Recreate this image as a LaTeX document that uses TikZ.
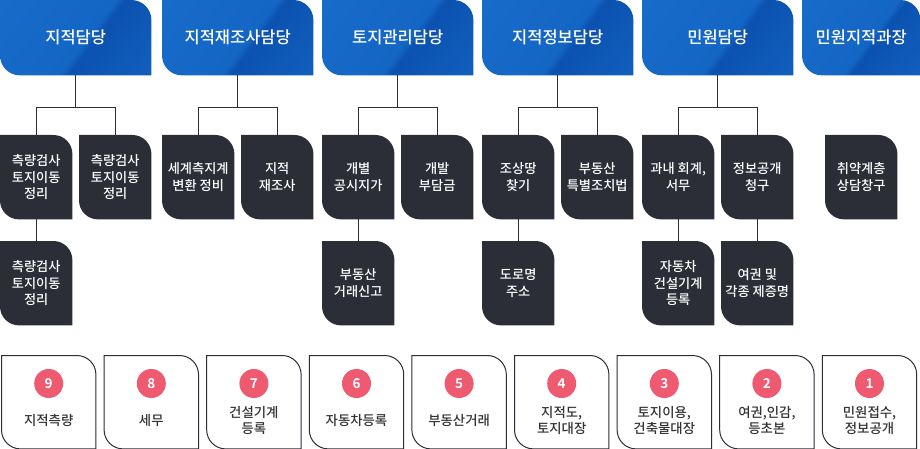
\documentclass[tikz,border=0pt]{standalone}
\usepackage{fontspec}
\setmainfont{Noto Sans CJK KR Medium}[BoldFont={Noto Sans CJK KR Bold}]
\usetikzlibrary{backgrounds,calc}
\definecolor{darkbox}{HTML}{2B2E37}
\definecolor{hbase}{HTML}{1466C4}
\definecolor{hlight}{HTML}{1A6DCA}
\definecolor{hdark}{HTML}{0C52B0}
\definecolor{numred}{HTML}{EE5A6F}
\definecolor{txt}{HTML}{333333}
\pgfdeclarehorizontalshading{hdrshade}{100bp}{color(0bp)=(hlight); color(54bp)=(hbase); color(57bp)=(hdark); color(100bp)=(hbase)}
\newcommand\leafbg[3]{%
\begin{scope}[on background layer]
\path[#3] (#1.north west) -- ([xshift=-#2pt]#1.north east) arc[start angle=90,end angle=0,radius=#2pt] -- (#1.south east) -- ([xshift=#2pt]#1.south west) arc[start angle=270,end angle=180,radius=#2pt] -- cycle;
\end{scope}}
\begin{document}
\begin{tikzpicture}[x=1pt,y=1pt,
  hdr/.style={anchor=north west, minimum width=151pt, minimum height=75pt, inner sep=0pt, text=white, font=\fontsize{16.5}{19}\selectfont},
  hfill/.style={shading=hdrshade, shading angle=-37},
  sub/.style={anchor=north west, minimum width=72pt, minimum height=84pt, inner sep=0pt, text=white, align=center, font=\fontsize{13.2}{16.5}\selectfont},
  subfill/.style={fill=darkbox},
  conn/.style={draw=darkbox, line width=1.2pt},
  card/.style={anchor=north west, minimum width=94pt, minimum height=93pt, inner sep=0pt},
  cardfill/.style={draw=darkbox, line width=1pt, fill=white},
  num/.style={circle, fill=numred, minimum size=29pt, inner sep=0pt, text=white, font=\fontsize{13.5}{13.5}\bfseries\selectfont},
  lbl/.style={text=txt, align=center, font=\fontsize{13.4}{16}\selectfont}]
\useasboundingbox (0,0) rectangle (920,-449);
% headers
\node[hdr] (h1) at (0,0) {지적담당};
\node[hdr] (h2) at (162,0) {지적재조사담당};
\node[hdr] (h3) at (322,0) {토지관리담당};
\node[hdr] (h4) at (482,0) {지적정보담당};
\node[hdr] (h5) at (642,0) {민원담당};
\node[hdr, minimum width=118pt] (h6) at (802,0) {민원지적과장};
\foreach \h in {h1,h2,h3,h4,h5,h6}{\leafbg{\h}{20}{hfill}}
% second row
\node[sub] (c1a) at (0,-135) {측량검사\\토지이동\\정리};
\node[sub] (c1b) at (79,-135) {측량검사\\토지이동\\정리};
\node[sub] (c2a) at (162,-135) {세계측지계\\변환 정비};
\node[sub] (c2b) at (241,-135) {지적\\재조사};
\node[sub] (c3a) at (322,-135) {개별\\공시지가};
\node[sub] (c3b) at (401,-135) {개발\\부담금};
\node[sub] (c4a) at (482,-135) {조상땅\\찾기};
\node[sub] (c4b) at (561,-135) {부동산\\특별조치법};
\node[sub] (c5a) at (642,-135) {과내 회계,\\서무};
\node[sub] (c5b) at (721,-135) {정보공개\\청구};
\node[sub] (c6a) at (825,-135) {취약계층\\상담창구};
% third row
\node[sub] (d1) at (0,-241) {측량검사\\토지이동\\정리};
\node[sub] (d3) at (322,-241) {부동산\\거래신고};
\node[sub] (d4) at (482,-241) {도로명\\주소};
\node[sub] (d5a) at (642,-241) {자동차\\건설기계\\등록};
\node[sub] (d5b) at (721,-241) {여권 및\\각종 제증명};
\foreach \s in {c1a,c1b,c2a,c2b,c3a,c3b,c4a,c4b,c5a,c5b,c6a,d1,d3,d4,d5a,d5b}{\leafbg{\s}{19}{subfill}}
% connectors
\foreach \h/\a/\b in {h1/c1a/c1b, h2/c2a/c2b, h3/c3a/c3b, h4/c4a/c4b, h5/c5a/c5b}{
  \draw[conn] (\h.south) -- ++(0,-32) coordinate (j\h);
  \draw[conn] (\a.north) |- (j\h) -| (\b.north);
}
\draw[conn] (c1a.south) -- (d1.north);
\draw[conn] (c3a.south) -- (d3.north);
\draw[conn] (c4a.south) -- (d4.north);
\draw[conn] (c5a.south) -- (d5a.north);
\draw[conn] (c5b.south) -- (d5b.north);
% bottom cards
\foreach \i/\n/\t in {0/9/{지적측량}, 1/8/{세무}, 2/7/{건설기계\\등록}, 3/6/{자동차등록}, 4/5/{부동산거래}, 5/4/{지적도,\\토지대장}, 6/3/{토지이용,\\건축물대장}, 7/2/{여권,인감,\\등초본}, 8/1/{민원접수,\\정보공개}}{
  \node[card] (b\n) at ({1.5+\i*102.6},-355.5) {};
  \leafbg{b\n}{19}{cardfill}
  \node[num] (n\n) at ($(b\n.north)+(0,-28)$) {\n};
  \node[lbl] (l\n) at ($(b\n.north)+(0,-65)$) {\t};
}
\end{tikzpicture}
\end{document}
